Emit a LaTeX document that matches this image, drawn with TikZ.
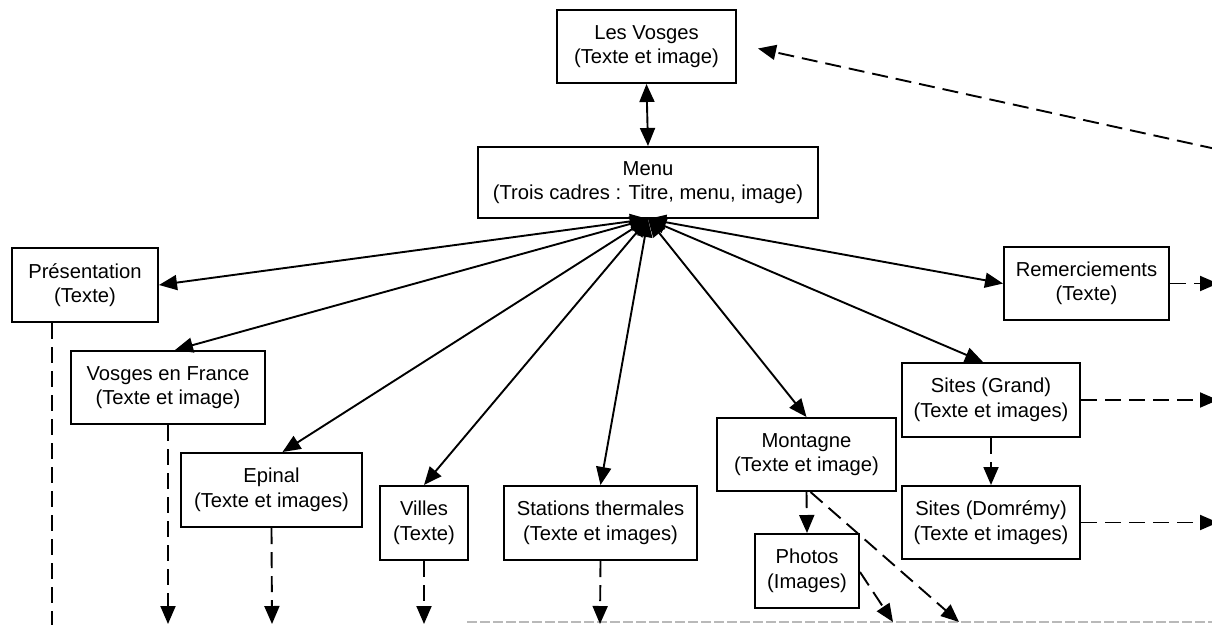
\documentclass[tikz,border=0pt]{standalone}
\usepackage{fontspec}
\setmainfont{Liberation Sans}
\usetikzlibrary{arrows.meta,calc}
\begin{document}
\begin{tikzpicture}[x=1pt,y=-1pt,
  >={Triangle[length=18pt,width=15pt]},
  box/.style={draw, line width=2pt, align=center, inner sep=0pt,
    font=\fontsize{20.2}{24.5}\selectfont},
  sol/.style={line width=1.9pt},
  dsh/.style={line width=1.9pt, dash pattern=on 16pt off 8pt}]
\clip (0,0) rectangle (1212,624);
\fill[white] (0,0) rectangle (1212,624);
% bottom grey line
\coordinate (g1) at (467,622);
\coordinate (g2) at (1212,622);
\draw[gray!55, line width=1.5pt, dash pattern=on 10pt off 3pt] (g1) -- (g2);
% nodes
\node[box, minimum width=179pt, minimum height=73pt] (vos) at (646.5,46.5) {Les Vosges\\(Texte et image)};
\node[box, minimum width=340pt, minimum height=71pt] (menu) at (648,182.5) {Menu\\(Trois cadres : Titre, menu, image)};
\node[box, minimum width=146pt, minimum height=74pt] (pres) at (85,285) {Présentation\\(Texte)};
\node[box, minimum width=194pt, minimum height=73pt] (vef) at (168,387.5) {Vosges en France\\(Texte et image)};
\node[box, minimum width=181pt, minimum height=74pt] (epi) at (271.5,490) {Epinal\\(Texte et images)};
\node[box, minimum width=88pt, minimum height=74pt] (vil) at (424,523) {Villes\\(Texte)};
\node[box, minimum width=193pt, minimum height=74pt] (sta) at (600.5,523) {Stations thermales\\(Texte et images)};
\node[box, minimum width=179pt, minimum height=73pt] (mon) at (806.5,454.5) {Montagne\\(Texte et image)};
\node[box, minimum width=104pt, minimum height=74pt] (pho) at (807,571) {Photos\\(Images)};
\node[box, minimum width=178pt, minimum height=74pt] (sg) at (991,400) {Sites (Grand)\\(Texte et images)};
\node[box, minimum width=178pt, minimum height=73pt] (sd) at (991,522.5) {Sites (Domrémy)\\(Texte et images)};
\node[box, minimum width=165pt, minimum height=73pt] (rem) at (1086.5,283.5) {Remerciements\\(Texte)};
% solid connectors
\draw[sol,<->] (vos.south) -- (menu.north);
\coordinate (m) at (menu.south);
\draw[sol,<->] (m) -- (pres.east);
\draw[sol,<->] (m) -- ($(vef.north)+(7,0)$);
\draw[sol,<->] (m) -- ($(epi.north)+(11,0)$);
\draw[sol,<->] (m) -- (vil.north);
\draw[sol,<->] (m) -- (sta.north);
\draw[sol,<->] (m) -- (mon.north);
\draw[sol,<->] (m) -- ($(sg.north)+(-8,0)$);
\draw[sol,<->] (m) -- (rem.west);
% dashed connectors
\coordinate (pb) at (52,640);
\coordinate (vefb) at (168,624);
\coordinate (epib) at (272,624);
\coordinate (vilb) at (424,624);
\coordinate (stab) at (600,624);
\coordinate (monb) at (959,622);
\coordinate (phob) at (893,622);
\coordinate (sgr) at (1218,400);
\coordinate (sdr) at (1218,522.5);
\coordinate (remr) at (1218,283.5);
\coordinate (vosr) at (1216,149);
\draw[dsh] ($(pres.south)+(-33,0)$) -- (pb);
\draw[dsh,->] (vef.south) -- (vefb);
\draw[dsh,->] (epi.south) -- (epib);
\draw[dsh,->] (vil.south) -- (vilb);
\draw[dsh,->] (sta.south) -- (stab);
\draw[dsh,->] (mon.south) -- (pho.north);
\draw[dsh,->] ($(mon.south)+(4,0)$) -- (monb);
\draw[dsh,->] ($(pho.east)+(0,1)$) -- (phob);
\draw[dsh,->] (sg.south) -- (sd.north);
\draw[dsh,->] (sg.east) -- (sgr);
\draw[dsh,->] (sd.east) -- (sdr);
\draw[dsh,->] (rem.east) -- (remr);
\draw[dsh,->] (vosr) -- ($(vos.east)+(21,2)$);
\end{tikzpicture}
\end{document}
